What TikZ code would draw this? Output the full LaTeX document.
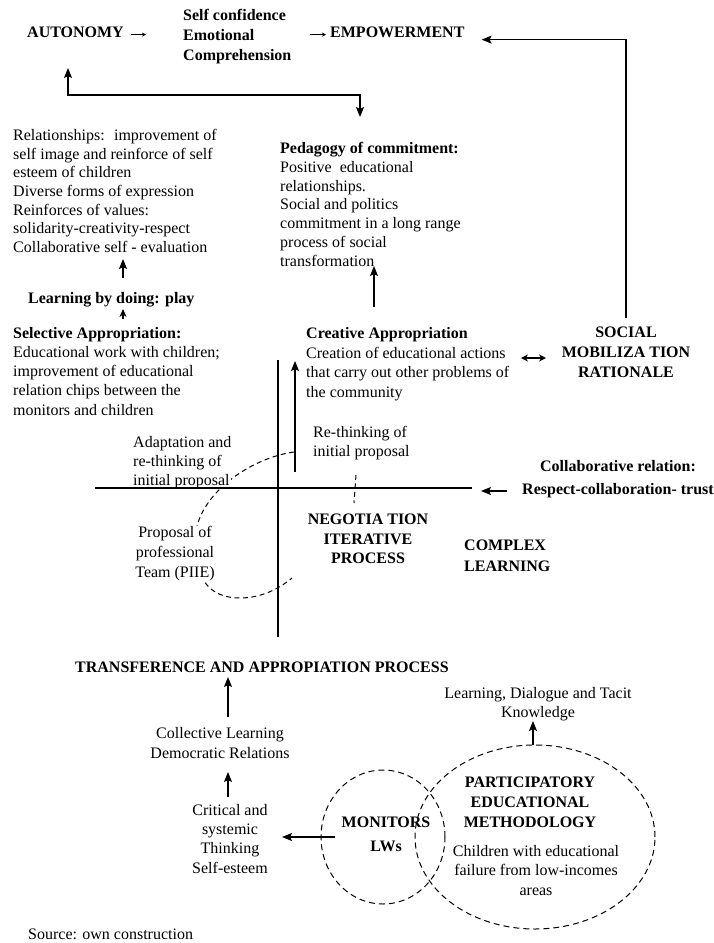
\documentclass[tikz,border=0pt]{standalone}
\usepackage{fontspec}
\setmainfont{Liberation Serif}
\usetikzlibrary{arrows.meta,shapes.geometric}
\newcommand\fsz[1]{\fontsize{16}{#1}\selectfont}
\begin{document}
\begin{tikzpicture}[x=1pt,y=-1pt,
  txtl/.style={inner sep=0pt, anchor=north west, align=left, font=\fsz{19}},
  txtc/.style={inner sep=0pt, anchor=north, align=center, font=\fsz{19.5}},
  bfl/.style={txtl, font=\fsz{19}\bfseries},
  bfc/.style={txtc, font=\fsz{19.5}\bfseries},
  arr/.style={line width=1.1pt, -{Stealth[length=10pt,width=8pt,inset=2pt]}},
  arrboth/.style={line width=1.1pt, {Stealth[length=10pt,width=8pt,inset=2pt]}-{Stealth[length=10pt,width=8pt,inset=2pt]}},
  sarr/.style={line width=0.9pt, -{Stealth[length=4pt,width=4pt]}},
  plain/.style={line width=1.1pt},
  dsh/.style={line width=1pt, dash pattern=on 5pt off 3.5pt},
  dell/.style={draw, ellipse, line width=1pt, dash pattern=on 6pt off 4pt, inner sep=0pt}
]
\useasboundingbox[fill=white] (0,0) rectangle (714,943);

% dashed arc behind the left texts
\draw[dsh] (294,452) .. controls (250,458) and (196,495) .. (195,540)
  .. controls (194,585) and (215,598) .. (240,598)
  .. controls (262,598) and (280,588) .. (292,578);
\coordinate (ds1) at (356,475);
\coordinate (ds2) at (354,503);
\draw[dsh] (ds1) -- (ds2);

% top
\node[bfl] (auto) at (27,27) {AUTONOMY};
\node[bfl, font=\fsz{20}\bfseries] (selfc) at (183,9) {Self confidence\\Emotional\\Comprehension};
\node[bfl] (emp) at (330,27) {EMPOWERMENT};
\draw[sarr] ([xshift=7pt,yshift=-2pt]auto.east) -- ([xshift=22pt,yshift=-2pt]auto.east);
\draw[sarr] ([xshift=-20pt,yshift=-2pt]emp.west) -- ([xshift=-4pt,yshift=-2pt]emp.west);

% left column
\node[txtl, font=\fsz{18.7}] (rel) at (13,129) {Relationships:~ improvement of\\self image and reinforce of self\\esteem of children\\Diverse forms of expression\\Reinforces of values:\\solidarity-creativity-respect\\Collaborative self - evaluation};
\node[bfl] (lbd) at (28,292) {Learning by doing: play};
\node[txtl, font=\fsz{19.2}] (sel) at (13,327) {\textbf{Selective Appropriation:}\\Educational work with children;\\improvement of educational\\relation chips between the\\monitors and children};

% middle column
\node[txtl, font=\fsz{18.8}] (ped) at (280,142) {\textbf{Pedagogy of commitment:}\\Positive~ educational\\relationships.\\Social and politics\\commitment in a long range\\process of social\\transformation};
\node[txtl, font=\fsz{19.7}] (cre) at (306,327) {\textbf{Creative Appropriation}\\Creation of educational actions\\that carry out other problems of\\the community};
\node[bfc, font=\fsz{20}\bfseries] (soc) at (626,327) {SOCIAL\\MOBILIZA TION\\RATIONALE};

% cross area
\node[txtl] (reth) at (313,426) {Re-thinking of\\initial proposal};
\node[txtl, fill=white] (adap) at (133,436) {Adaptation and\\re-thinking of\\initial proposal};
\node[txtc, font=\fsz{20}, fill=white] (prop) at (175,526) {Proposal of\\professional\\Team (PIIE)};
\node[bfc] (neg) at (368,514) {NEGOTIA TION\\ITERATIVE\\PROCESS};
\node[bfl, font=\fsz{21}\bfseries] (cpx) at (464,540) {COMPLEX\\LEARNING};
\node[bfc, font=\fsz{23}\bfseries] (colr) at (618,460) {Collaborative relation:\\Respect-collaboration- trust};

\coordinate (v1) at (278,360);
\coordinate (v2) at (278,637);
\coordinate (h1) at (95,488);
\coordinate (h2) at (472,488);
\draw[plain] (v1) -- (v2);
\draw[plain] (h1) -- (h2);
\coordinate (a4s) at (295,472);
\coordinate (a4e) at (295,361);
\draw[arr] (a4s) -- (a4e);
\coordinate (a5s) at (507,491);
\coordinate (a5e) at (481,491);
\draw[arr] (a5s) -- (a5e);

% bottom
\node[bfl] (tra) at (75,662) {TRANSFERENCE AND APPROPIATION PROCESS};
\node[txtc, font=\fsz{20}] (coll) at (220,727) {Collective Learning\\Democratic Relations};
\node[txtc, font=\fsz{19.3}] (crit) at (230,804) {Critical and\\systemic\\Thinking\\Self-esteem};
\node[dell, minimum width=124pt, minimum height=134pt] (monc) at (383,837) {};
\node[dell, minimum width=240pt, minimum height=184pt] (parc) at (535,837) {};
\node[bfc, font=\fsz{24}\bfseries] (mon) at (386,817) {MONITORS\\LWs};
\node[bfc, font=\fsz{20}\bfseries] (par) at (530,777) {PARTICIPATORY\\EDUCATIONAL\\METHODOLOGY};
\node[txtc] (chi) at (536,845) {Children with educational\\failure from low-incomes\\areas};
\node[txtc, font=\fsz{19}] (ldt) at (538,687) {Learning, Dialogue and Tacit\\Knowledge};
\node[txtl] (src) at (28,929) {Source: own construction};

% connectors
\draw[arr] ([yshift=9pt]soc.north) |- ([xshift=17pt,yshift=-7pt]emp.east);
\coordinate (bkl) at (68,68);
\coordinate (bkr) at (360,117);
\draw[arrboth] (bkl) |- (bkr |- 0,95) -- (bkr);
\coordinate (a1s) at (123,278);
\coordinate (a1e) at (123,259);
\draw[arr] (a1s) -- (a1e);
\coordinate (a2s) at (123,319);
\coordinate (a2e) at (123,309);
\draw[arr, -{Stealth[length=8pt,width=7pt]}] (a2s) -- (a2e);
\coordinate (a3s) at (374,307);
\coordinate (a3e) at (374,266);
\draw[arr] (a3s) -- (a3e);
\coordinate (d1) at (521,358);
\coordinate (d2) at (546,358);
\draw[line width=1.1pt, {Stealth[length=7pt,width=7pt]}-{Stealth[length=7pt,width=7pt]}] (d1) -- (d2);
\coordinate (b1s) at (228,717);
\coordinate (b1e) at (228,677);
\draw[arr] (b1s) -- (b1e);
\coordinate (b2s) at (228,797);
\coordinate (b2e) at (228,772);
\draw[arr] (b2s) -- (b2e);
\coordinate (b3s) at (335,837);
\coordinate (b3e) at (282,837);
\draw[arr] (b3s) -- (b3e);
\draw[arr] ([xshift=-2pt]parc.north) -- ([xshift=-2pt]parc.north |- ldt.south);
\end{tikzpicture}
\end{document}
